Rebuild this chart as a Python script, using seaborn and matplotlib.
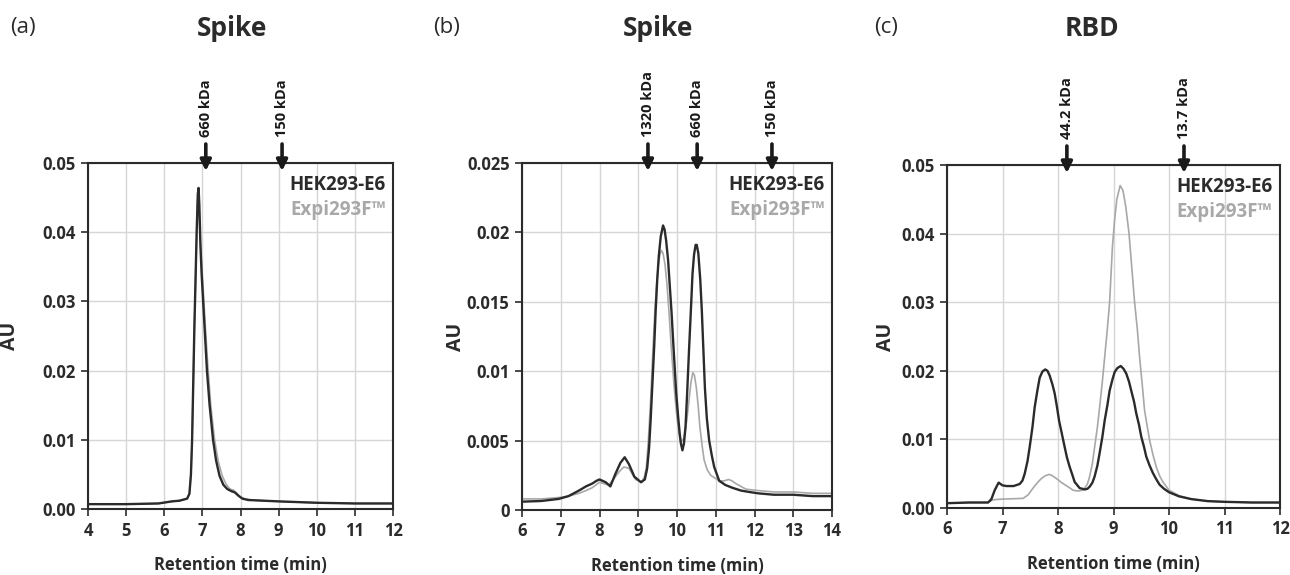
import matplotlib
matplotlib.use("Agg")
import matplotlib.pyplot as plt
import seaborn as sns
import pandas as pd

# ---------------- data ----------------
# Panel (a) Spike
a_x_hek = [4.0, 5.0, 5.85, 6.2, 6.4, 6.6, 6.66, 6.70, 6.73, 6.76, 6.79, 6.82, 6.85, 6.88, 6.90,
           6.92, 6.95, 6.98, 7.02, 7.07, 7.12, 7.19, 7.28, 7.36, 7.45, 7.55, 7.65, 7.75, 7.85,
           7.95, 8.05, 8.20, 8.60, 9.00, 10.0, 11.0, 12.0]
a_y_hek = [0.0007, 0.0007, 0.0008, 0.0011, 0.0012, 0.0015, 0.0022, 0.0050, 0.0099, 0.0180,
           0.0262, 0.0330, 0.0400, 0.0455, 0.0464, 0.0440, 0.0380, 0.0340, 0.0300, 0.0250,
           0.0200, 0.0150, 0.0100, 0.0070, 0.0048, 0.0035, 0.0029, 0.0026, 0.0024, 0.0019,
           0.0015, 0.0013, 0.0012, 0.0011, 0.0009, 0.0008, 0.0008]
a_x_expi = [4.0, 5.0, 5.85, 6.2, 6.4, 6.6, 6.66, 6.70, 6.73, 6.76, 6.79, 6.82, 6.85, 6.87, 6.89,
            6.91, 6.94, 6.98, 7.02, 7.07, 7.14, 7.22, 7.32, 7.42, 7.52, 7.62, 7.72, 7.82, 7.90,
            8.00, 8.10, 8.30, 8.60, 9.00, 10.0, 11.0, 12.0]
a_y_expi = [0.0007, 0.0007, 0.0008, 0.0011, 0.0012, 0.0015, 0.0022, 0.0050, 0.0099, 0.0180,
            0.0262, 0.0330, 0.0395, 0.0440, 0.0455, 0.0440, 0.0390, 0.0355, 0.0320, 0.0270,
            0.0210, 0.0150, 0.0100, 0.0068, 0.0048, 0.0036, 0.0029, 0.0027, 0.0023, 0.0017,
            0.0015, 0.0013, 0.0012, 0.0011, 0.0009, 0.0008, 0.0008]

# Panel (b) Spike
b_x_hek = [6.0, 6.5, 6.95, 7.2, 7.47, 7.65, 7.81, 7.92, 8.00, 8.08, 8.16, 8.28, 8.41, 8.54,
           8.65, 8.76, 8.90, 9.07, 9.17, 9.23, 9.28, 9.32, 9.36, 9.41, 9.45, 9.49, 9.53, 9.58,
           9.64, 9.68, 9.72, 9.77, 9.81, 9.86, 9.90, 9.94, 9.98, 10.03, 10.07, 10.10, 10.14,
           10.18, 10.22, 10.26, 10.31, 10.36, 10.40, 10.44, 10.48, 10.51, 10.55, 10.60, 10.64,
           10.68, 10.72, 10.77, 10.83, 10.90, 10.96, 11.09, 11.25, 11.43, 11.65, 11.86, 12.1,
           12.5, 13.0, 13.5, 14.0]
b_y_hek = [0.0006, 0.00065, 0.0008, 0.0010, 0.0014, 0.0017, 0.0019, 0.0021, 0.0022, 0.0021,
           0.0020, 0.0017, 0.0026, 0.0034, 0.0038, 0.0033, 0.0024, 0.0020, 0.0022, 0.0030,
           0.0045, 0.0065, 0.0088, 0.0117, 0.0144, 0.0166, 0.0183, 0.0197, 0.0205, 0.0202,
           0.0194, 0.0180, 0.0163, 0.0142, 0.0122, 0.0103, 0.0084, 0.0067, 0.0055, 0.0048,
           0.0043, 0.0048, 0.0060, 0.0083, 0.0115, 0.0145, 0.0170, 0.0184, 0.0191, 0.0191,
           0.0185, 0.0166, 0.0144, 0.0116, 0.0088, 0.0066, 0.0050, 0.0039, 0.0031, 0.0021,
           0.0018, 0.0016, 0.0014, 0.0013, 0.0012, 0.0011, 0.0011, 0.0010, 0.0010]
b_x_expi = [6.0, 6.5, 6.95, 7.2, 7.47, 7.65, 7.81, 8.00, 8.12, 8.24, 8.41, 8.52, 8.63, 8.76,
            8.93, 9.09, 9.16, 9.21, 9.26, 9.32, 9.37, 9.43, 9.48, 9.52, 9.56, 9.60, 9.64, 9.69,
            9.74, 9.79, 9.85, 9.92, 9.97, 10.01, 10.05, 10.09, 10.14, 10.18, 10.25, 10.31,
            10.36, 10.41, 10.45, 10.50, 10.55, 10.59, 10.65, 10.70, 10.78, 10.87, 11.09, 11.22,
            11.33, 11.42, 11.52, 11.78, 12.1, 12.5, 13.0, 13.5, 14.0]
b_y_expi = [0.0008, 0.0008, 0.0009, 0.0010, 0.0012, 0.0014, 0.0016, 0.0020, 0.0019, 0.0018,
            0.0024, 0.0028, 0.0031, 0.0030, 0.0022, 0.0020, 0.0024, 0.0031, 0.0050, 0.0079,
            0.0110, 0.0144, 0.0165, 0.0177, 0.0184, 0.0187, 0.0185, 0.0177, 0.0163, 0.0144,
            0.0118, 0.0091, 0.0075, 0.0064, 0.0056, 0.0050, 0.0050, 0.0052, 0.0064, 0.0079,
            0.0092, 0.0099, 0.0097, 0.0088, 0.0074, 0.0060, 0.0046, 0.0036, 0.0029, 0.0025,
            0.0021, 0.0021, 0.0022, 0.0021, 0.0019, 0.0015, 0.0014, 0.0013, 0.0013, 0.0012,
            0.0012]

# Panel (c) RBD
c_x_hek = [6.0, 6.4, 6.74, 6.80, 6.86, 6.93, 7.00, 7.07, 7.20, 7.31, 7.36, 7.40, 7.45, 7.49,
           7.54, 7.58, 7.63, 7.67, 7.72, 7.77, 7.81, 7.85, 7.90, 7.94, 7.98, 8.02, 8.07, 8.12,
           8.16, 8.21, 8.26, 8.30, 8.35, 8.39, 8.44, 8.48, 8.53, 8.57, 8.62, 8.66, 8.71, 8.75,
           8.80, 8.84, 8.89, 8.93, 8.98, 9.02, 9.07, 9.13, 9.18, 9.23, 9.28, 9.32, 9.37, 9.41,
           9.46, 9.50, 9.55, 9.59, 9.65, 9.71, 9.77, 9.83, 9.91, 10.0, 10.18, 10.4, 10.7, 11.0,
           11.5, 12.0]
c_y_hek = [0.0007, 0.0008, 0.0008, 0.0013, 0.0026, 0.0037, 0.0033, 0.0032, 0.0032, 0.0035,
           0.0040, 0.0050, 0.0068, 0.0089, 0.0118, 0.0147, 0.0172, 0.0190, 0.0199, 0.0202,
           0.0200, 0.0193, 0.0180, 0.0167, 0.0148, 0.0127, 0.0108, 0.0089, 0.0074, 0.0060,
           0.0048, 0.0038, 0.0033, 0.0029, 0.0028, 0.0027, 0.0028, 0.0031, 0.0037, 0.0046,
           0.0062, 0.0080, 0.0104, 0.0127, 0.0150, 0.0171, 0.0187, 0.0198, 0.0204, 0.0207,
           0.0203, 0.0196, 0.0184, 0.0171, 0.0155, 0.0138, 0.0121, 0.0104, 0.0089, 0.0075,
           0.0062, 0.0051, 0.0042, 0.0034, 0.0028, 0.0023, 0.0017, 0.0013, 0.0010, 0.0009,
           0.0008, 0.0008]
c_x_expi = [6.0, 6.4, 6.74, 6.83, 7.0, 7.37, 7.46, 7.55, 7.63, 7.70, 7.77, 7.84, 7.90, 7.97,
            8.05, 8.12, 8.20, 8.27, 8.33, 8.39, 8.44, 8.48, 8.53, 8.57, 8.62, 8.66, 8.71, 8.75,
            8.80, 8.84, 8.89, 8.93, 8.98, 9.02, 9.06, 9.12, 9.17, 9.22, 9.28, 9.33, 9.38, 9.43,
            9.47, 9.52, 9.56, 9.61, 9.65, 9.71, 9.77, 9.83, 9.89, 10.0, 10.18, 10.4, 10.7,
            11.0, 11.5, 12.0]
c_y_expi = [0.0007, 0.0008, 0.0008, 0.0012, 0.0013, 0.0014, 0.0019, 0.0029, 0.0037, 0.0043,
            0.0047, 0.0049, 0.0047, 0.0043, 0.0038, 0.0034, 0.0030, 0.0026, 0.0025, 0.0025,
            0.0026, 0.0029, 0.0035, 0.0046, 0.0065, 0.0089, 0.0118, 0.0147, 0.0185, 0.0219,
            0.0262, 0.0300, 0.0380, 0.0420, 0.0450, 0.0470, 0.0463, 0.0440, 0.0400, 0.0350,
            0.0300, 0.0260, 0.0220, 0.0178, 0.0142, 0.0118, 0.0099, 0.0078, 0.0060, 0.0047,
            0.0038, 0.0026, 0.0018, 0.0013, 0.0010, 0.0009, 0.0008, 0.0008]

panel_letters = ["(a)", "(b)", "(c)"]
panel_titles = ["Spike", "Spike", "RBD"]
series_names = ["HEK293-E6", "Expi293F\u2122"]

a_xticks = [4, 5, 6, 7, 8, 9, 10, 11, 12]
a_yticks = [0.0, 0.01, 0.02, 0.03, 0.04, 0.05]
a_yticklabels = ["0.00", "0.01", "0.02", "0.03", "0.04", "0.05"]
b_xticks = [6, 7, 8, 9, 10, 11, 12, 13, 14]
b_yticks = [0.0, 0.005, 0.01, 0.015, 0.02, 0.025]
b_yticklabels = ["0", "0.005", "0.01", "0.015", "0.02", "0.025"]
c_xticks = [6, 7, 8, 9, 10, 11, 12]
c_yticks = [0.0, 0.01, 0.02, 0.03, 0.04, 0.05]
c_yticklabels = ["0.00", "0.01", "0.02", "0.03", "0.04", "0.05"]

a_markers_x = [7.09, 9.09]
a_markers_lbl = ["660 kDa", "150 kDa"]
b_markers_x = [9.25, 10.52, 12.45]
b_markers_lbl = ["1320 kDa", "660 kDa", "150 kDa"]
c_markers_x = [8.16, 10.27]
c_markers_lbl = ["44.2 kDa", "13.7 kDa"]

# ---------------- style ----------------
sns.set_theme(style="whitegrid")
plt.rcParams["font.family"] = ["Open Sans", "DejaVu Sans"]

DARK = "#2b2b2b"
GRAY = "#a8a8a8"

fig = plt.figure(figsize=(12.9, 5.75), dpi=100)

W, H = 1290.0, 575.0
boxes = [(88, 393, 163, 509), (522, 832, 163, 510), (947, 1280, 165, 508)]
title_x = [232, 658, 1092]
letter_x = [10, 433, 874]
ylabel_off = [68, 56, 51]

panels = [
    (a_x_hek, a_y_hek, a_x_expi, a_y_expi, a_xticks, a_yticks, a_yticklabels, a_markers_x, a_markers_lbl),
    (b_x_hek, b_y_hek, b_x_expi, b_y_expi, b_xticks, b_yticks, b_yticklabels, b_markers_x, b_markers_lbl),
    (c_x_hek, c_y_hek, c_x_expi, c_y_expi, c_xticks, c_yticks, c_yticklabels, c_markers_x, c_markers_lbl),
]

for i, (xh, yh, xe, ye, xt, yt, ytl, mx, ml) in enumerate(panels):
    l, r, t, b = boxes[i]
    ax = fig.add_axes([l / W, 1 - b / H, (r - l) / W, (b - t) / H])
    ax.set_facecolor("white")

    df_h = pd.DataFrame({"x": xh, "y": yh})
    df_e = pd.DataFrame({"x": xe, "y": ye})
    sns.lineplot(data=df_e, x="x", y="y", ax=ax, color=GRAY, lw=1.2, estimator=None, sort=False)
    sns.lineplot(data=df_h, x="x", y="y", ax=ax, color=DARK, lw=1.7, estimator=None, sort=False)

    ax.set_xlim(xt[0], xt[-1])
    ax.set_ylim(yt[0], yt[-1])
    ax.set_xticks(xt)
    ax.set_xticklabels([str(v) for v in xt])
    ax.set_yticks(yt)
    ax.set_yticklabels(ytl)
    ax.grid(True, color="#d6d6d6", lw=1.0)
    for s in ax.spines.values():
        s.set_color(DARK)
        s.set_linewidth(1.5)
    ax.tick_params(axis="both", which="major", direction="out", length=5, width=1.2,
                   color=DARK, labelsize=12, labelcolor="#2b2b2b", pad=4,
                   bottom=True, left=True)
    for lab in ax.get_xticklabels() + ax.get_yticklabels():
        lab.set_fontweight("bold")

    ax.set_xlabel("Retention time (min)", fontsize=12, fontweight="bold", color="#2b2b2b")
    ax.xaxis.set_label_coords(0.5, -47 / (b - t))
    ax.set_ylabel("AU", fontsize=14, fontweight="bold", color="#2b2b2b")
    ax.yaxis.set_label_coords(-ylabel_off[i] / (r - l), 0.5)

    ax.text(0.977, 1 - 22 / (b - t), series_names[0], transform=ax.transAxes, ha="right",
            va="center", fontsize=13.5, fontweight="bold", color=DARK)
    ax.text(0.977, 1 - 47 / (b - t), series_names[1], transform=ax.transAxes, ha="right",
            va="center", fontsize=13.5, fontweight="bold", color=GRAY)

    trans = ax.get_xaxis_transform()
    for xv, lbl in zip(mx, ml):
        ax.annotate("", xy=(xv, 1 - 8 / (b - t)), xycoords=trans,
                    xytext=(xv, 1 + 19 / (b - t)), textcoords=trans,
                    arrowprops=dict(arrowstyle="-|>", color="#1a1a1a", lw=2.6,
                                    mutation_scale=16, shrinkA=0, shrinkB=0),
                    annotation_clip=False)
        ax.text(xv, 1 + 26 / (b - t), lbl, transform=trans, rotation=90, ha="center",
                va="bottom", fontsize=10.5, fontweight="bold", color="#1a1a1a", clip_on=False)

    fig.text(title_x[i] / W, 1 - 28 / H, panel_titles[i], ha="center", va="center",
             fontsize=19, fontweight="bold", color="#2b2b2b")
    fig.text(letter_x[i] / W, 1 - 28 / H, panel_letters[i], ha="left", va="center",
             fontsize=16, color="#2b2b2b")

fig.savefig("out.png", dpi=100, facecolor="white")
